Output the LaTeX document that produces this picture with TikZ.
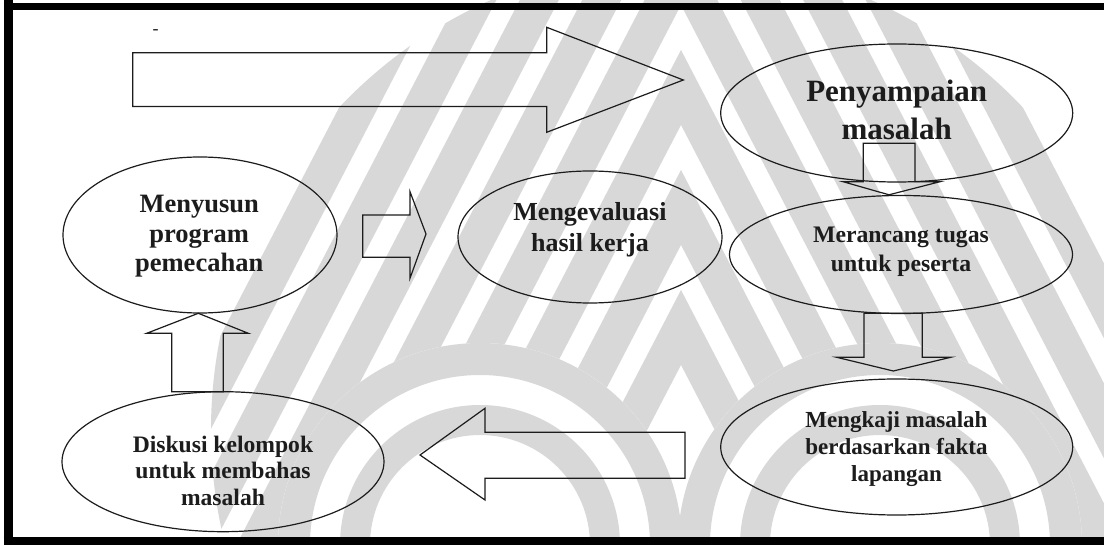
\documentclass[tikz,border=0pt]{standalone}
\usepackage{fontspec}
\setmainfont{Liberation Serif}
\usetikzlibrary{shapes.geometric}
\definecolor{wm}{RGB}{216,216,216}
\definecolor{ink}{RGB}{28,28,28}
\begin{document}
\begin{tikzpicture}[x=1pt,y=-1pt,
  oval/.style={ellipse, draw=ink, line width=1.2pt, inner sep=0pt},
  lbl/.style={align=center, text=ink, inner sep=0pt},
  blockarrow/.style={draw=ink, line width=1.2pt, line join=miter},
  band/.style={fill=wm}]
\useasboundingbox (0,0) rectangle (1104,545);
\fill[white] (0,0) rectangle (1104,545);

% background stamp: nested chevron bands with two arches below
\begin{scope}
  \clip (0,0) rectangle (1104,545);
  \begin{scope}
    \clip (681,430) circle[radius=470pt];
    \foreach \a in {-550,-430,...,290}{
      \fill[band] ({681-0.52*(1200-\a)},1200) -- (681,\a) -- ({681+0.52*(1200-\a)},1200)
        -- ({681+0.52*(1125-\a)},1200) -- (681,{\a+75}) -- ({681-0.52*(1125-\a)},1200) -- cycle;
    }
  \end{scope}
  \fill[white] (480,545) circle[radius=202pt];
  \fill[white] (880,545) circle[radius=202pt];
  \fill[band, even odd rule] (480,545) circle[radius=202pt] (480,545) circle[radius=170pt];
  \fill[band, even odd rule] (880,545) circle[radius=202pt] (880,545) circle[radius=170pt];
  \fill[band, even odd rule] (880,545) circle[radius=140pt] (880,545) circle[radius=110pt];
  \fill[band, even odd rule] (480,545) circle[radius=140pt] (480,545) circle[radius=110pt];
\end{scope}

% frame
\draw[line width=9pt] (8,0) -- (8,545);
\draw[line width=7pt] (3.5,7) -- (1104,7);
\draw[line width=8pt] (3.5,541) -- (1104,541);

% small mark
\node[text=ink, font=\fontsize{18}{18}\selectfont, inner sep=0pt] (dash) at (155.5,32.3) {-};

% ellipses
\node[oval, minimum width=352pt, minimum height=138pt] (pen) at (896.7,113) {};
\node[oval, minimum width=343pt, minimum height=118pt] (mer) at (901,254.5) {};
\node[oval, minimum width=352pt, minimum height=136pt] (kaj) at (896.7,447) {};
\node[oval, minimum width=274pt, minimum height=156pt] (men) at (200,235) {};
\node[oval, minimum width=264pt, minimum height=132pt] (eva) at (590,237) {};
\node[oval, minimum width=322pt, minimum height=140pt] (dis) at (223,461.7) {};

% labels
\node[lbl, font=\bfseries\fontsize{31}{37.3}\selectfont] (pen-t) at (896.7,110) {Penyampaian\\masalah};
\node[lbl, font=\bfseries\fontsize{23.7}{29}\selectfont] (mer-t) at (901,251.7) {Merancang tugas\\untuk peserta};
\node[lbl, font=\bfseries\fontsize{23}{27}\selectfont] (kaj-t) at (896.5,449) {Mengkaji masalah\\berdasarkan fakta\\lapangan};
\node[lbl, font=\bfseries\fontsize{26.5}{29.5}\selectfont] (men-t) at (199.2,236.3) {Menyusun\\program\\pemecahan};
\node[lbl, font=\bfseries\fontsize{26}{31}\selectfont] (eva-t) at (590,230.1) {Mengevaluasi\\hasil kerja};
\node[lbl, font=\bfseries\fontsize{23.6}{26.5}\selectfont] (dis-t) at (223,470.8) {Diskusi kelompok\\untuk membahas\\masalah};

% block arrows
\draw[blockarrow] (132.7,52.7) -- (546.7,52.7) -- (546.7,27.3) -- (683.3,80) -- (546.7,132.3) -- (546.7,106.5) -- (132.7,106.5) -- cycle;
\draw[blockarrow] (863.3,143.3) -- (915,143.3) -- (915,181.7) -- (940,181.7) -- (889,194.8) -- (843,181.7) -- (863.3,181.7) -- cycle;
\draw[blockarrow] (864,313.3) -- (922.3,313.3) -- (922.3,357.3) -- (950.7,357.3) -- (893.3,371) -- (836.7,357.3) -- (864,357.3) -- cycle;
\draw[blockarrow] (685,432.3) -- (485,432.3) -- (485,408.3) -- (420,455) -- (485,500) -- (485,478.3) -- (685,478.3) -- cycle;
\draw[blockarrow] (171.7,391.7) -- (171.7,333.3) -- (146.7,333.3) -- (198.3,313.3) -- (248.3,333.3) -- (223.3,333.3) -- (223.3,391.7) -- cycle;
\draw[blockarrow] (362.7,215) -- (410,215) -- (410,191.7) -- (426,234) -- (410,278.3) -- (410,257.3) -- (362.7,257.3) -- cycle;
\end{tikzpicture}
\end{document}
